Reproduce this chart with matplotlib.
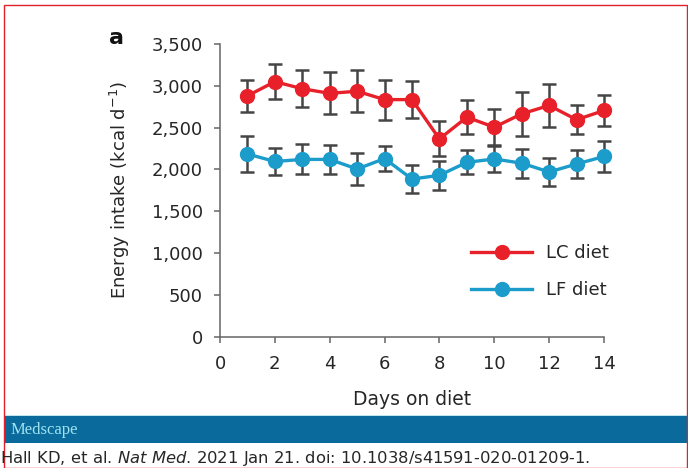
import numpy as np
import matplotlib.pyplot as plt
from matplotlib.patches import Rectangle
from matplotlib.ticker import FuncFormatter

plt.rcParams['font.family'] = ['DejaVu Sans']

# values
days = [1, 2, 3, 4, 5, 6, 7, 8, 9, 10, 11, 12, 13, 14]
lc_mean = [2880, 3050, 2965, 2910, 2935, 2835, 2835, 2365, 2625, 2505, 2665, 2765, 2595, 2705]
lc_err = [190, 210, 220, 250, 250, 240, 220, 210, 205, 215, 265, 255, 170, 190]
lf_mean = [2185, 2095, 2120, 2120, 2005, 2130, 1885, 1930, 2085, 2125, 2075, 1970, 2065, 2155]
lf_err = [210, 165, 180, 170, 190, 145, 170, 170, 145, 150, 175, 170, 170, 180]

yticks = [0, 500, 1000, 1500, 2000, 2500, 3000, 3500]
xticks = [0, 2, 4, 6, 8, 10, 12, 14]

red = '#e8202a'
blue = '#1b9ccb'
grey = '#454545'
txt = '#262626'

fig = plt.figure(figsize=(6.88, 4.68), dpi=100)
ax = fig.add_axes([220/688, 1-336.7/468, 384/688, 292.7/468])

ax.errorbar(days, lc_mean, yerr=lc_err, fmt='none', ecolor=grey, elinewidth=1.8,
            capsize=5.2, capthick=1.8, zorder=2, clip_on=False)
ax.errorbar(days, lf_mean, yerr=lf_err, fmt='none', ecolor=grey, elinewidth=1.8,
            capsize=5.2, capthick=1.8, zorder=2, clip_on=False)
ax.plot(days, lc_mean, '-o', color=red, lw=2.4, ms=10, label='LC diet', zorder=3, clip_on=False)
ax.plot(days, lf_mean, '-o', color=blue, lw=2.4, ms=10, label='LF diet', zorder=3, clip_on=False)

ax.set_xlim(0, 14)
ax.set_ylim(0, 3500)
ax.set_xticks(xticks)
ax.set_yticks(yticks)
ax.yaxis.set_major_formatter(FuncFormatter(lambda v, p: '{:,.0f}'.format(v)))
for s in ['top', 'right']:
    ax.spines[s].set_visible(False)
for s in ['left', 'bottom']:
    ax.spines[s].set_color('#666666')
    ax.spines[s].set_linewidth(1.1)
ax.tick_params(axis='both', direction='out', length=4.5, width=1.1, color='#666666',
               labelsize=13, labelcolor=txt, pad=8)
ax.tick_params(axis='x', pad=9)
ax.set_xlabel('Days on diet', fontsize=13.5, color=txt, labelpad=12)
ax.set_ylabel('Energy intake (kcal d$^{-1}$)', fontsize=13, color=txt, labelpad=14)

ax.legend(loc='upper left', bbox_to_anchor=(471/688, 1-244/468), bbox_transform=fig.transFigure,
          frameon=False, fontsize=13, borderpad=0, borderaxespad=0,
          handlelength=3.4, labelspacing=1.05, handletextpad=0.75, labelcolor=txt)

fig.text(117/688, 1-38/468, 'a', fontsize=16, fontweight='bold', ha='center', va='center', color='#111111')

# Medscape banner and citation
fig.patches.append(Rectangle((5/688, 1-443/468), 683/688, 27/468, transform=fig.transFigure,
                             facecolor='#0a6a9c', edgecolor='none'))
fig.patches.append(Rectangle((5/688, 1-416/468), 683/688, 1.5/468, transform=fig.transFigure,
                             facecolor='#bfe6f0', edgecolor='none'))
fig.text(11/688, 1-430/468, 'Medscape', fontsize=12, color='#9fe3ef', family='Liberation Serif',
         va='center')
fig.text(0/688, 1-459/468, 'Hall KD, et al. $\\it{Nat\\ Med}$. 2021 Jan 21. doi: 10.1038/s41591-020-01209-1.',
         fontsize=11.8, color=txt, va='center')

# thin red frame
fig.patches.append(Rectangle((4/688, 0), 682.5/688, 1-5/468, transform=fig.transFigure,
                             facecolor='none', edgecolor='#e0202a', lw=1.0))

fig.savefig('out.png', dpi=100)
